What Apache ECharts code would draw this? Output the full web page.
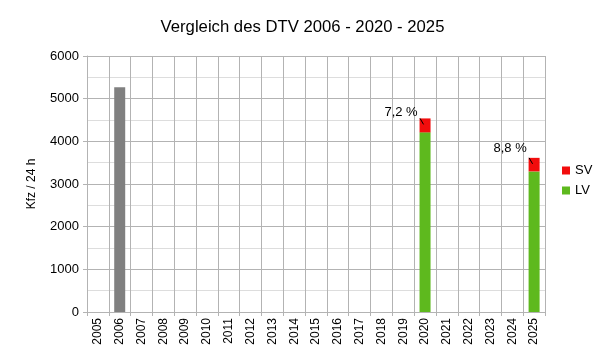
<!DOCTYPE html>
<html><head><meta charset="utf-8">
<script src="https://cdn.jsdelivr.net/npm/echarts@6/dist/echarts.min.js"></script>
<style>html,body{margin:0;padding:0;background:#fff}#c{width:605px;height:357px}</style>
</head><body><div id="c"></div>
<script>
const years = ['2005','2006','2007','2008','2009','2010','2011','2012','2013','2014','2015','2016','2017','2018','2019','2020','2021','2022','2023','2024','2025'];
const total2006 = [null,5265,null,null,null,null,null,null,null,null,null,null,null,null,null,null,null,null,null,null,null];
const lv = [null,null,null,null,null,null,null,null,null,null,null,null,null,null,null,4210,null,null,null,null,3295];
const sv = [null,null,null,null,null,null,null,null,null,null,null,null,null,null,null,327,null,null,null,null,318];
const yTicks = [0,1000,2000,3000,4000,5000,6000];

const font = 'Liberation Sans, Arial, sans-serif';
const leaderData = [];
years.forEach((y, i) => { if (sv[i] != null) leaderData.push([i, lv[i] + sv[i]]); });

const chart = echarts.init(document.getElementById('c'));
chart.setOption({
  animation: false,
  textStyle: {fontFamily: font},
  title: {text: 'Vergleich des DTV 2006 - 2020 - 2025', left: 'center', top: 14,
    textStyle: {fontFamily: font, fontSize: 16.7, fontWeight: 'normal', color: '#000'}},
  grid: {left: 87, right: 60, top: 56, bottom: 45},
  legend: {orient: 'vertical', left: 557, top: 159, itemWidth: 8, itemHeight: 8, itemGap: 7,
    icon: 'rect', data: ['SV','LV'], textStyle: {fontFamily: font, fontSize: 13, color: '#000'}},
  xAxis: {type: 'category', data: years, boundaryGap: true,
    axisLine: {lineStyle: {color: '#b3b3b3'}},
    axisTick: {show: true, length: 4, lineStyle: {color: '#b3b3b3'}},
    splitLine: {show: true, lineStyle: {color: '#b3b3b3'}},
    axisLabel: {rotate: 90, interval: 0, color: '#000', fontSize: 12, fontFamily: font, margin: 6}},
  yAxis: {type: 'value', min: yTicks[0], max: yTicks[yTicks.length-1], interval: 1000,
    name: 'Kfz / 24 h', nameLocation: 'middle', nameGap: 49,
    nameTextStyle: {fontFamily: font, fontSize: 12, color: '#000'},
    axisLine: {show: true, lineStyle: {color: '#b3b3b3'}},
    axisTick: {show: true, length: 4, lineStyle: {color: '#b3b3b3'}},
    minorTick: {show: false, splitNumber: 2},
    minorSplitLine: {show: true, lineStyle: {color: '#dddddd'}},
    splitLine: {show: true, lineStyle: {color: '#b3b3b3'}},
    axisLabel: {color: '#000', fontSize: 13, fontFamily: font, margin: 8, formatter: v => String(v)}},
  series: [
    {name: 'Gesamt', type: 'bar', stack: 's', data: total2006, barWidth: 11,
      itemStyle: {color: '#808080'}},
    {name: 'LV', type: 'bar', stack: 's', data: lv, barWidth: 11,
      itemStyle: {color: '#5eb91e'}},
    {name: 'SV', type: 'bar', stack: 's', data: sv, barWidth: 11,
      itemStyle: {color: '#f20d0d'},
      label: {show: true, position: 'top', distance: 0, color: '#000', fontSize: 13, fontFamily: font,
        formatter: p => {
          const t = sv[p.dataIndex] + lv[p.dataIndex];
          return (sv[p.dataIndex] / t * 100).toFixed(1).replace('.', ',') + ' %';
        }},
      labelLayout: p => ({dx: -24, dy: p.dataIndex === 20 ? -3 : 1})},
    {name: 'leader', type: 'custom', data: leaderData, z: 10, silent: true,
      renderItem: (params, api) => {
        const p = api.coord([api.value(0), api.value(1)]);
        return {type: 'line', shape: {x1: p[0] - 5, y1: p[1], x2: p[0] - 1.5, y2: p[1] + 6},
          style: {stroke: '#000', lineWidth: 1}};
      }}
  ]
});
</script></body></html>
